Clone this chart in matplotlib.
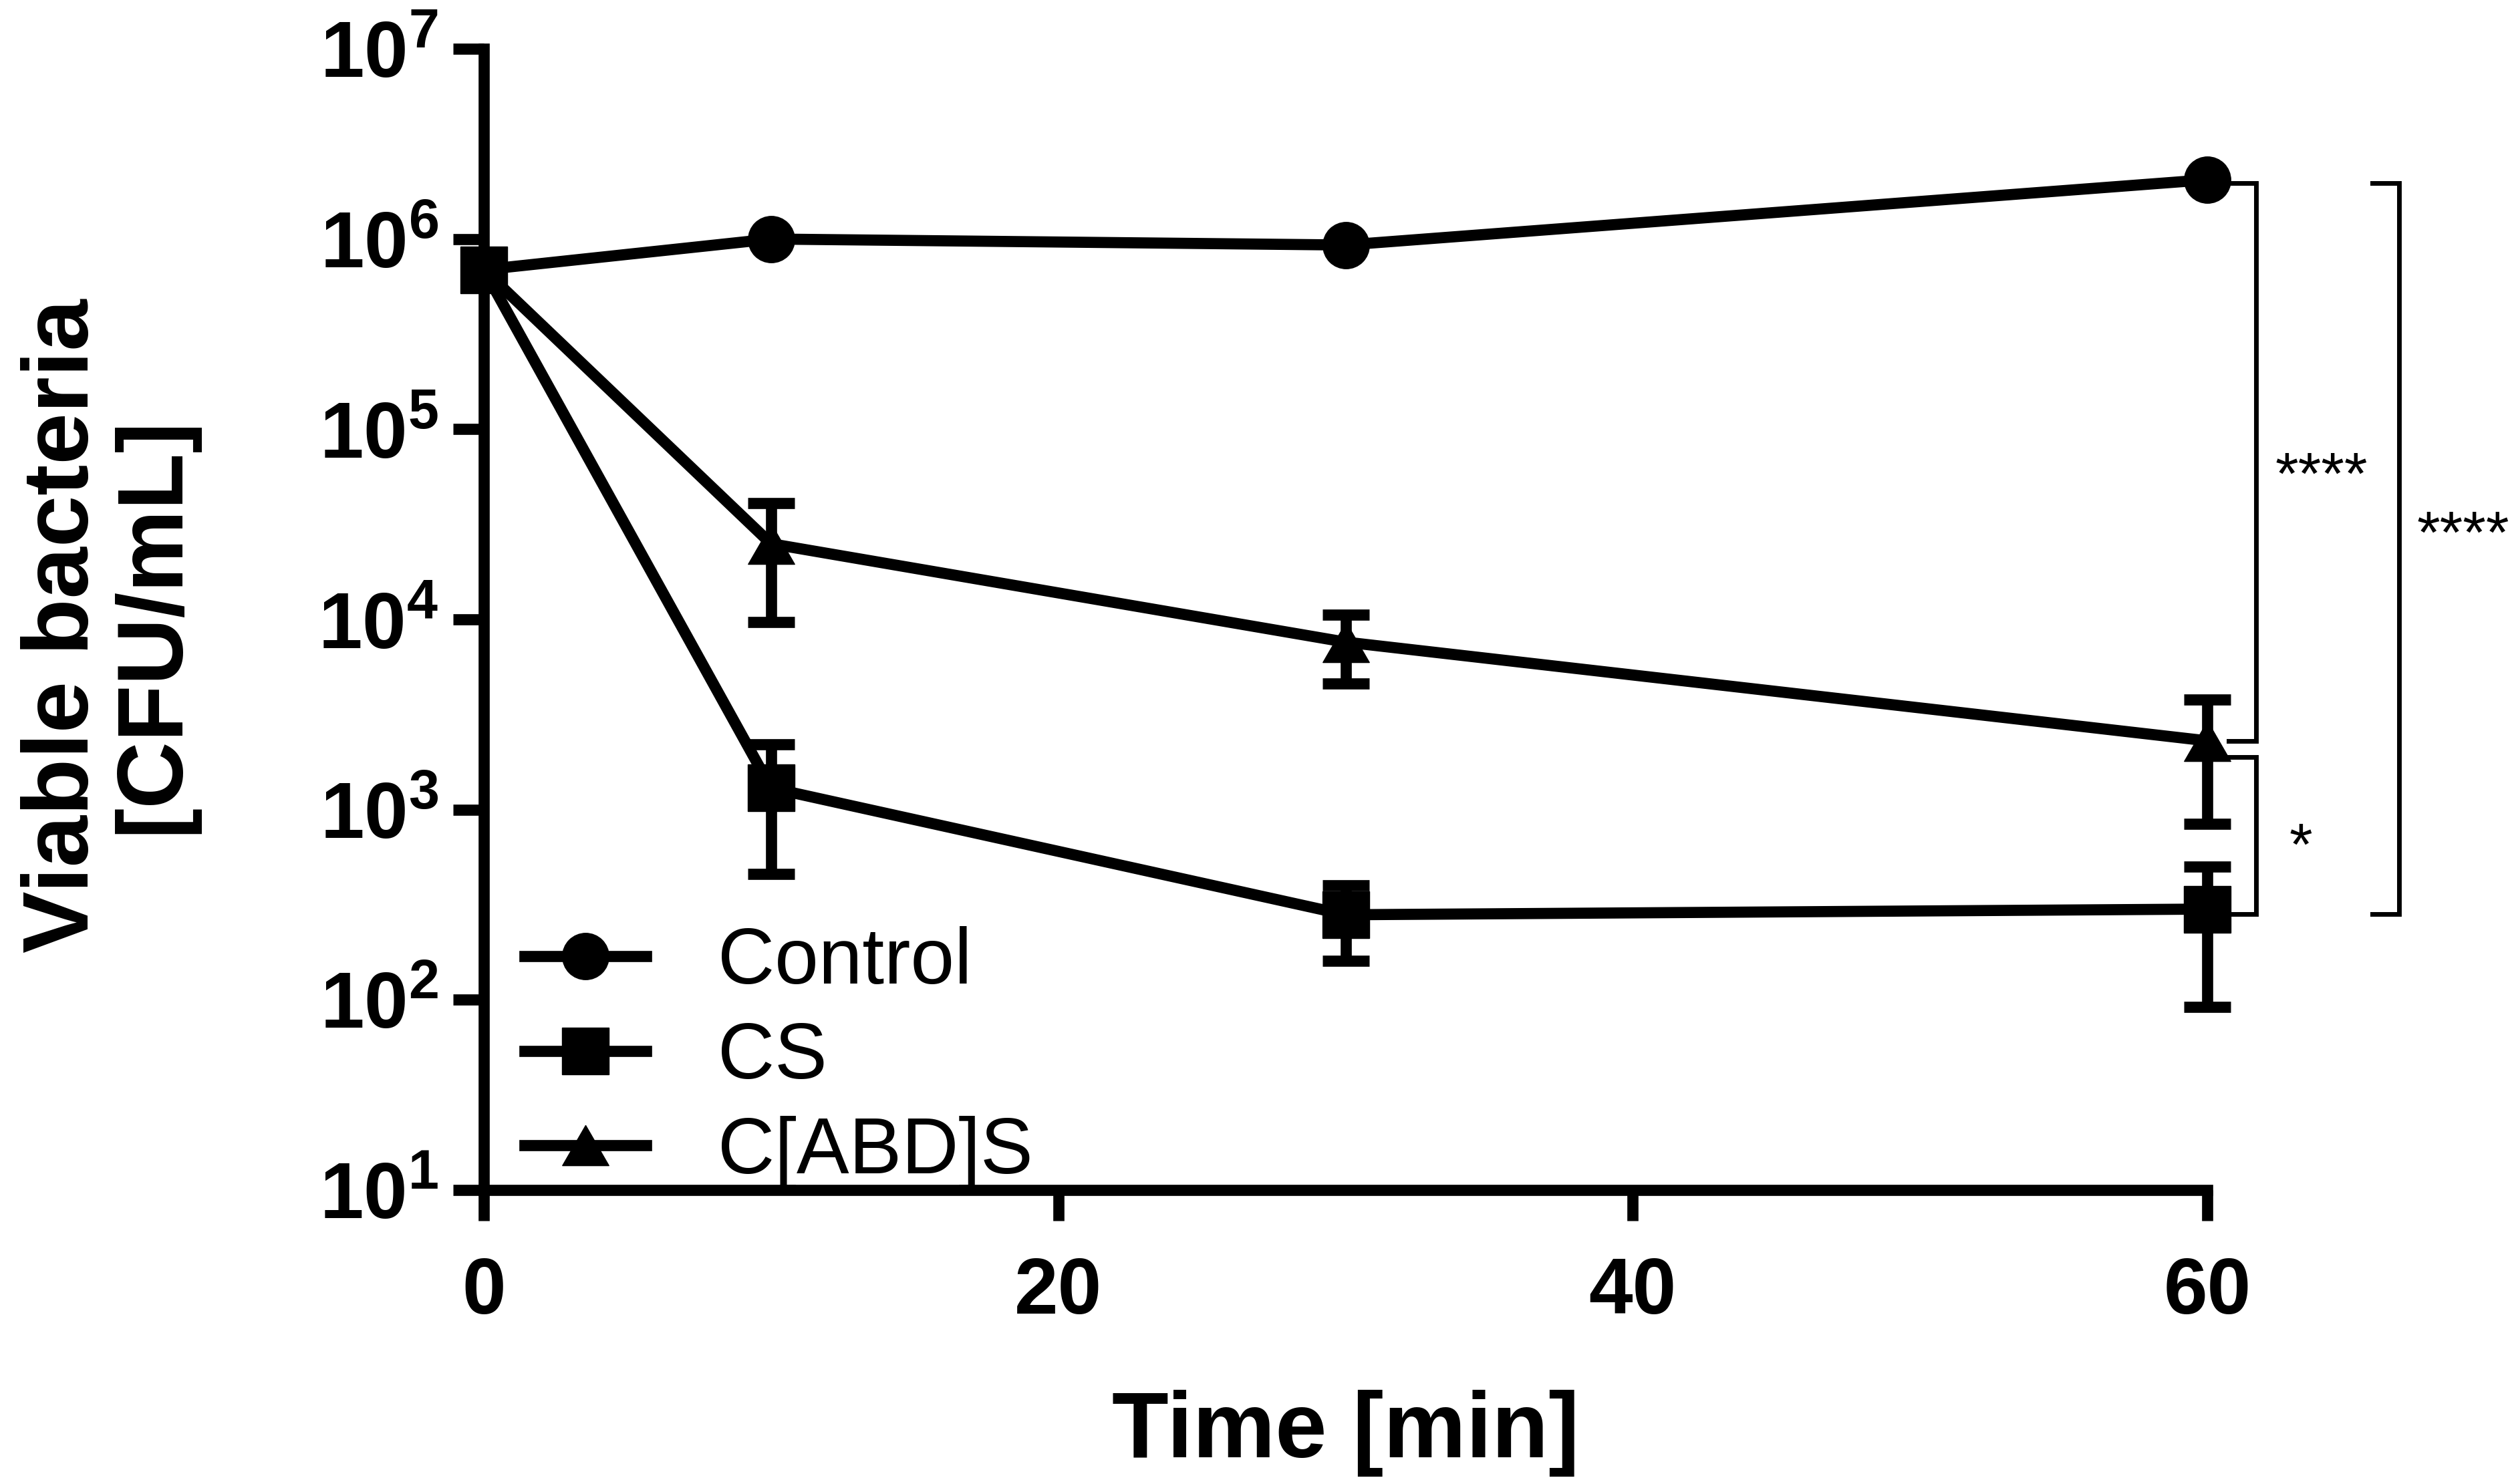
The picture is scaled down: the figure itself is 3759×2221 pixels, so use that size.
import matplotlib
matplotlib.use("Agg")
import matplotlib.pyplot as plt
from matplotlib.ticker import NullLocator

plt.rcParams['font.family'] = ['Liberation Sans', 'DejaVu Sans']
plt.rcParams['mathtext.fontset'] = 'custom'
plt.rcParams['mathtext.rm'] = 'Liberation Sans:bold'
plt.rcParams['mathtext.bf'] = 'Liberation Sans:bold'
plt.rcParams['mathtext.it'] = 'Liberation Sans:bold'

# data (CFU/mL vs. minutes)
time_min = [0, 10, 30, 60]
control = [6.9e5, 1.0e6, 9.3e5, 2.05e6]
cs = [6.9e5, 1.3e3, 2.8e2, 3.0e2]
cs_low = [6.9e5, 4.6e2, 1.6e2, 9.2e1]      # lower end of error bar
cs_high = [6.9e5, 2.2e3, 4.0e2, 5.0e2]     # upper end of error bar
cabds = [6.9e5, 2.5e4, 7.6e3, 2.3e3]
cabds_low = [6.9e5, 9.7e3, 4.6e3, 8.4e2]
cabds_high = [6.9e5, 4.1e4, 1.06e4, 3.8e3]

series_names = ['Control', 'CS', 'C[ABD]S']
xticks = [0, 20, 40, 60]
ydecades = [1, 2, 3, 4, 5, 6, 7]
ytick_labels = [r'$\mathbf{10^{%d}}$' % d for d in ydecades]

# significance marks: label, value a, value b
sig_marks = [('****', control[3], cabds[3]),
             ('*', cabds[3], cs[3]),
             ('****', control[3], cs[3])]

fig = plt.figure(figsize=(37.59, 22.21), dpi=100)
ax = fig.add_axes([0.1926, 0.1981, 0.6861, 0.7690])

lw = 12
ms = 50
# prism-like triangle, a bit wider than tall
tri = [(0, 0.5), (-0.577, -0.5), (0.577, -0.5), (0, 0.5)]


def err(vals, low, high):
    return [[v - l for v, l in zip(vals[1:], low[1:])],
            [h - v for v, h in zip(vals[1:], high[1:])]]


h_ctrl, = ax.plot(time_min, control, '-', marker='o', color='k', lw=lw, ms=ms,
                  label=series_names[0], clip_on=False, zorder=3)
h_tri, = ax.plot(time_min, cabds, '-', marker=tri, color='k', lw=lw, ms=ms,
                 label=series_names[2], clip_on=False, zorder=4)
h_sq, = ax.plot(time_min, cs, '-', marker='s', color='k', lw=lw, ms=ms,
                label=series_names[1], clip_on=False, zorder=5)

for vals, lo, hi in [(cabds, cabds_low, cabds_high), (cs, cs_low, cs_high)]:
    eb = ax.errorbar(time_min[1:], vals[1:], yerr=err(vals, lo, hi), fmt='none',
                     ecolor='k', elinewidth=12, capsize=25, capthick=12, zorder=4)
    for a in list(eb.lines[1]) + list(eb.lines[2]):
        a.set_clip_on(False)

ax.set_yscale('log')
ax.set_ylim(10, 1e7)
ax.set_xlim(0, 60)
ax.set_yticks([10.0 ** d for d in ydecades])
ax.set_yticklabels(ytick_labels)
ax.yaxis.set_minor_locator(NullLocator())
ax.set_xticks(xticks)
ax.set_xticklabels([str(x) for x in xticks], fontweight='bold')

for s in ['top', 'right']:
    ax.spines[s].set_visible(False)
for s in ['left', 'bottom']:
    ax.spines[s].set_linewidth(12)
ax.tick_params(axis='both', which='major', length=33, width=12, labelsize=85)
ax.tick_params(axis='x', pad=38)
ax.tick_params(axis='y', pad=16)

# brackets with stars
brk = [(60.75, 61.70, 0.96, 1.0), (60.75, 61.70, 0.82, 0.94), (65.75, 66.68, 0.96, 0.94)]
txt_pos = [(62.35, 4.58e4), (62.84, 5.15e2), (67.30, 2.26e4)]
for (lab, va_, vb_), (x0, x1, fa, fb), (tx, ty) in zip(sig_marks, brk, txt_pos):
    ya, yb = va_ * fa, vb_ * fb
    ax.plot([x0, x1, x1, x0], [ya, ya, yb, yb], color='k', lw=5,
            clip_on=False, solid_joinstyle='miter')
    ax.text(tx, ty, lab, fontsize=64, ha='left', va='baseline')

leg = ax.legend([h_ctrl, h_sq, h_tri], series_names, loc='center left',
                bbox_to_anchor=(0.0237, 0.1156), frameon=False, fontsize=85,
                handlelength=1.54, handletextpad=0.91, labelspacing=0.26,
                borderpad=0, borderaxespad=0, numpoints=1)

fig.text(0.0434, 0.5785, 'Viable bacteria\n[CFU/mL]', rotation=90, ha='center',
         va='center', fontsize=100, fontweight='bold', linespacing=1.05)
fig.text(0.5357, 0.018, 'Time [min]', ha='center', va='baseline',
         fontsize=100, fontweight='bold')

fig.savefig('out.png', dpi=100)
